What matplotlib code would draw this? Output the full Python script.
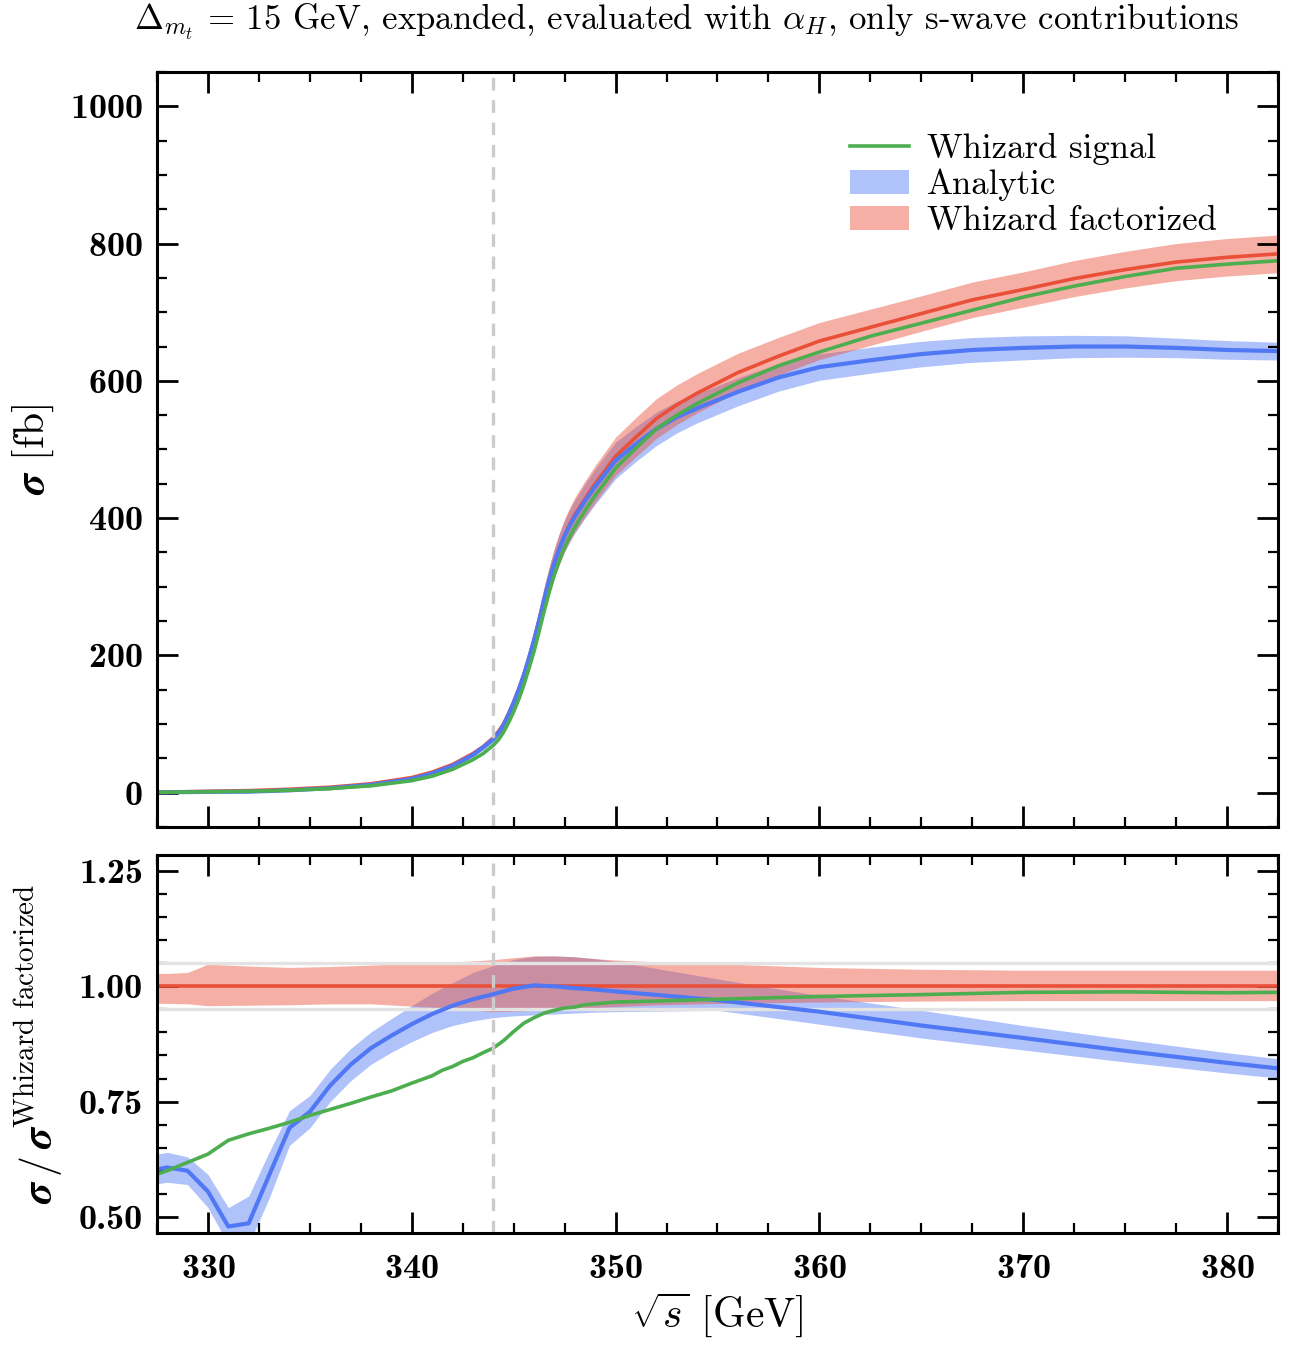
import numpy as np
import matplotlib
matplotlib.use("Agg")
import matplotlib.pyplot as plt
from matplotlib.patches import Patch
from matplotlib.lines import Line2D
from matplotlib.ticker import MultipleLocator, FormatStrFormatter

plt.rcParams['font.family'] = ['cmr10', 'DejaVu Serif']
plt.rcParams['mathtext.fontset'] = 'cm'
plt.rcParams['mathtext.rm'] = 'cmr10'
plt.rcParams['mathtext.bf'] = 'STIXGeneral:italic:bold'
plt.rcParams['axes.formatter.use_mathtext'] = True
plt.rcParams['axes.unicode_minus'] = False

# ---- upper panel: cross sections [fb]
x_top = [327, 328, 330, 332, 334, 336, 338, 340,
         341, 342, 343, 343.5,
         344, 344.25, 344.5, 344.75,
         345, 345.25, 345.5, 345.75,
         346, 346.25, 346.5, 346.75,
         347, 347.25, 347.5, 347.75,
         348, 348.5, 349, 349.5, 350,
         351, 352, 353, 354,
         356, 358, 360,
         362.5, 365, 367.5, 370, 372.5, 375, 377.5, 380, 383]
sig_fact = [0.5, 1, 2, 3, 5, 8, 13, 22,
            30, 41, 57, 67,
            80, 89, 100, 115,
            132, 151, 172, 196,
            222, 251, 282, 310,
            335, 356, 375, 391,
            405, 428, 450, 470, 490,
            518, 545, 565, 582,
            612, 636, 658,
            678, 698, 718, 733, 749, 762, 773, 780, 786]
sig_signal = [0.3, 0.6, 1.3, 2, 3.5, 6, 10, 17.5,
              24, 34, 48, 57,
              69, 77, 88, 102,
              118, 136, 157, 181,
              206, 235, 265, 293,
              318, 339, 358, 373,
              387, 411, 433, 453, 473,
              502, 530, 550, 567,
              597, 622, 642,
              665, 684, 703, 722, 738, 752, 764, 770, 776]
sig_ana = [0.3, 0.6, 1.2, 1.5, 3.5, 6.5, 11.5, 20,
           28, 39, 55, 66,
           78, 87, 98, 114,
           131, 150, 171, 196,
           222, 251, 282, 310,
           335, 356, 374, 389,
           402, 425, 446, 465, 484,
           508, 530, 547, 560,
           584, 605, 620,
           630, 639, 645, 648, 650, 650, 648, 645, 643]
# relative half-widths of the bands in the upper panel
rel_fact_top = [0.03, 0.03, 0.045, 0.043, 0.04, 0.043, 0.046, 0.05,
                0.052, 0.053, 0.055, 0.056,
                0.057, 0.058, 0.06, 0.061,
                0.062, 0.063, 0.064, 0.065,
                0.066, 0.066, 0.066, 0.066,
                0.065, 0.065, 0.064, 0.063,
                0.062, 0.061, 0.06, 0.058, 0.057,
                0.055, 0.053, 0.051, 0.049,
                0.046, 0.043, 0.041,
                0.039, 0.037, 0.036, 0.035, 0.035, 0.035, 0.035, 0.035, 0.035]
rel_ana_top = [0.035, 0.035, 0.035, 0.035, 0.035, 0.035, 0.035, 0.04,
               0.045, 0.05, 0.055, 0.057,
               0.06, 0.061, 0.061, 0.062,
               0.062, 0.062, 0.063, 0.063,
               0.063, 0.063, 0.063, 0.063,
               0.062, 0.062, 0.061, 0.061,
               0.06, 0.059, 0.058, 0.057, 0.055,
               0.05, 0.046, 0.042, 0.038,
               0.035, 0.033, 0.031,
               0.03, 0.029, 0.028, 0.027, 0.025, 0.024, 0.022, 0.021, 0.02]

# ---- lower panel: ratios to Whizard factorized
x_ana = [327, 328, 329, 330, 331, 332, 333, 334, 335, 336,
         337, 338, 339, 340, 341, 342, 343, 344, 345, 346,
         347, 348, 349, 350,
         355, 360, 365, 370, 375, 380, 385]
ratio_ana = [0.599, 0.607, 0.600, 0.555, 0.479, 0.486, 0.59, 0.693, 0.728, 0.785,
             0.83, 0.866, 0.893, 0.918, 0.94, 0.958, 0.972, 0.983, 0.995, 1.002,
             1.0, 0.996, 0.993, 0.989,
             0.97, 0.945, 0.915, 0.888, 0.86, 0.834, 0.81]
ana_lo = [0.568, 0.575, 0.57, 0.52, 0.44, 0.44, 0.54, 0.655, 0.693, 0.75,
          0.795, 0.831, 0.857, 0.88, 0.9, 0.915, 0.925, 0.932, 0.936, 0.938,
          0.94, 0.942, 0.944, 0.945,
          0.948, 0.918, 0.888, 0.862, 0.836, 0.812, 0.79]
ana_hi = [0.632, 0.64, 0.63, 0.592, 0.52, 0.545, 0.64, 0.73, 0.763, 0.82,
          0.865, 0.901, 0.93, 0.958, 0.985, 1.008, 1.03, 1.045, 1.058, 1.065,
          1.066, 1.064, 1.06, 1.054,
          1.016, 0.98, 0.948, 0.915, 0.885, 0.856, 0.83]

x_sig = [327, 328, 329, 330, 331, 332, 333, 334, 335, 336, 337, 338, 339, 340,
         340.5, 341, 341.5, 342, 342.5, 343, 343.5, 344, 344.5, 345, 345.5, 346,
         346.5, 347, 347.5, 348, 348.5, 349, 349.5, 350, 352, 355, 360, 365, 370,
         375, 380, 385]
ratio_sig = [0.585, 0.6, 0.618, 0.636, 0.666, 0.68, 0.692, 0.705, 0.72, 0.733, 0.746, 0.76, 0.773, 0.79,
             0.798, 0.806, 0.818, 0.826, 0.837, 0.845, 0.856, 0.866, 0.882, 0.902, 0.92, 0.932,
             0.942, 0.948, 0.953, 0.955, 0.96, 0.962, 0.964, 0.966, 0.968, 0.972, 0.978, 0.982, 0.987,
             0.988, 0.986, 0.988]

x_fact = [327, 328, 329, 330, 332, 334, 336, 338, 340, 342, 343, 344, 345, 346,
          347, 348, 349, 350, 352, 355, 360, 365, 370, 375, 380, 385]
fact_hi = [1.028, 1.028, 1.03, 1.048, 1.044, 1.041, 1.043, 1.046, 1.05, 1.053, 1.055, 1.058, 1.062, 1.066,
           1.066, 1.064, 1.06, 1.057, 1.053, 1.049, 1.041, 1.037, 1.035, 1.035, 1.035, 1.035]
fact_lo = [0.963, 0.963, 0.962, 0.958, 0.959, 0.96, 0.962, 0.962, 0.957, 0.952, 0.948, 0.945, 0.946, 0.948,
           0.95, 0.952, 0.954, 0.956, 0.96, 0.963, 0.966, 0.968, 0.969, 0.969, 0.969, 0.969]

m_thr = 344.0

c_green = '#4cae4f'
c_blue = '#5078f5'
c_red = '#ea4f38'

fig = plt.figure(figsize=(12.93, 13.5), dpi=100)
ax1 = fig.add_axes([0.1214, 0.3874, 0.867, 0.5593])
ax2 = fig.add_axes([0.1214, 0.0867, 0.867, 0.28], sharex=ax1)

x_top = np.array(x_top)
sig_fact = np.array(sig_fact)
sig_ana = np.array(sig_ana)
rel_fact_top = np.array(rel_fact_top)
rel_ana_top = np.array(rel_ana_top)

ax1.fill_between(x_top, sig_ana * (1 - rel_ana_top), sig_ana * (1 + rel_ana_top),
                 color=c_blue, alpha=0.45, lw=0)
ax1.fill_between(x_top, sig_fact * (1 - rel_fact_top), sig_fact * (1 + rel_fact_top),
                 color=c_red, alpha=0.45, lw=0)
ax1.plot(x_top, sig_fact, color=c_red, lw=2.6)
ax1.plot(x_top, sig_ana, color=c_blue, lw=3.0)
ax1.plot(x_top, sig_signal, color=c_green, lw=2.6)
ax1.axvline(m_thr, color='0.8', lw=2.4, ls=(0, (3.8, 2.9)))

ax2.axhline(1.05, color='0.89', lw=2.4)
ax2.axhline(0.95, color='0.89', lw=2.4)
ax2.fill_between(x_ana, ana_lo, ana_hi, color=c_blue, alpha=0.45, lw=0)
ax2.fill_between(x_fact, fact_lo, fact_hi, color=c_red, alpha=0.45, lw=0)
ax2.plot(x_fact, np.ones(len(x_fact)), color=c_red, lw=2.6)
ax2.plot(x_ana, ratio_ana, color=c_blue, lw=3.0)
ax2.plot(x_sig, ratio_sig, color=c_green, lw=2.6)
ax2.axvline(m_thr, color='0.8', lw=2.4, ls=(0, (3.8, 2.9)))

ax1.set_xlim(327.5, 382.5)
ax1.set_ylim(-50, 1050)
ax2.set_ylim(0.465, 1.285)

for ax in (ax1, ax2):
    ax.tick_params(which='both', direction='in', top=True, right=True)
    ax.tick_params(which='major', length=15, width=2.0, labelsize=26, pad=10)
    ax.tick_params(which='minor', length=7.5, width=1.6)
    ax.tick_params(axis='x', which='major', pad=15)
    ax.xaxis.set_major_locator(MultipleLocator(10))
    ax.xaxis.set_minor_locator(MultipleLocator(2.5))
    for sp in ax.spines.values():
        sp.set_linewidth(2.2)

ax1.yaxis.set_major_locator(MultipleLocator(200))
ax1.yaxis.set_minor_locator(MultipleLocator(50))
ax2.yaxis.set_major_locator(MultipleLocator(0.25))
ax2.yaxis.set_minor_locator(MultipleLocator(0.05))
ax2.yaxis.set_major_formatter(FormatStrFormatter('%.2f'))
ax1.tick_params(labelbottom=False)
for lab in ax1.get_yticklabels() + ax2.get_xticklabels() + ax2.get_yticklabels():
    lab.set_fontfamily('cmb10')

ax1.set_ylabel(r'$\mathbf{\sigma}$ [fb]', fontsize=30, labelpad=10, math_fontfamily='custom')
ax2.set_ylabel(r'$\mathbf{\sigma}\,/\,\mathbf{\sigma}^{\mathrm{Whizard\ factorized}}$',
               fontsize=30, labelpad=10, math_fontfamily='custom')
ax2.set_xlabel(r'$\sqrt{s}$ [GeV]', fontsize=30, labelpad=4)

handles = [Line2D([], [], color=c_green, lw=2.6),
           Patch(facecolor=c_blue, alpha=0.45, lw=0),
           Patch(facecolor=c_red, alpha=0.45, lw=0)]
ax1.legend(handles, ['Whizard signal', 'Analytic', 'Whizard factorized'],
           loc='upper right', bbox_to_anchor=(0.973, 0.961), frameon=False,
           fontsize=25, handlelength=1.7, labelspacing=0.12, handletextpad=0.5)

fig.text(0.531, 0.984, r'$\Delta_{m_t}$ = 15 GeV, expanded, evaluated with $\alpha_H$, only s-wave contributions',
         ha='center', va='center', fontsize=25)

fig.savefig('out.png', dpi=100)
